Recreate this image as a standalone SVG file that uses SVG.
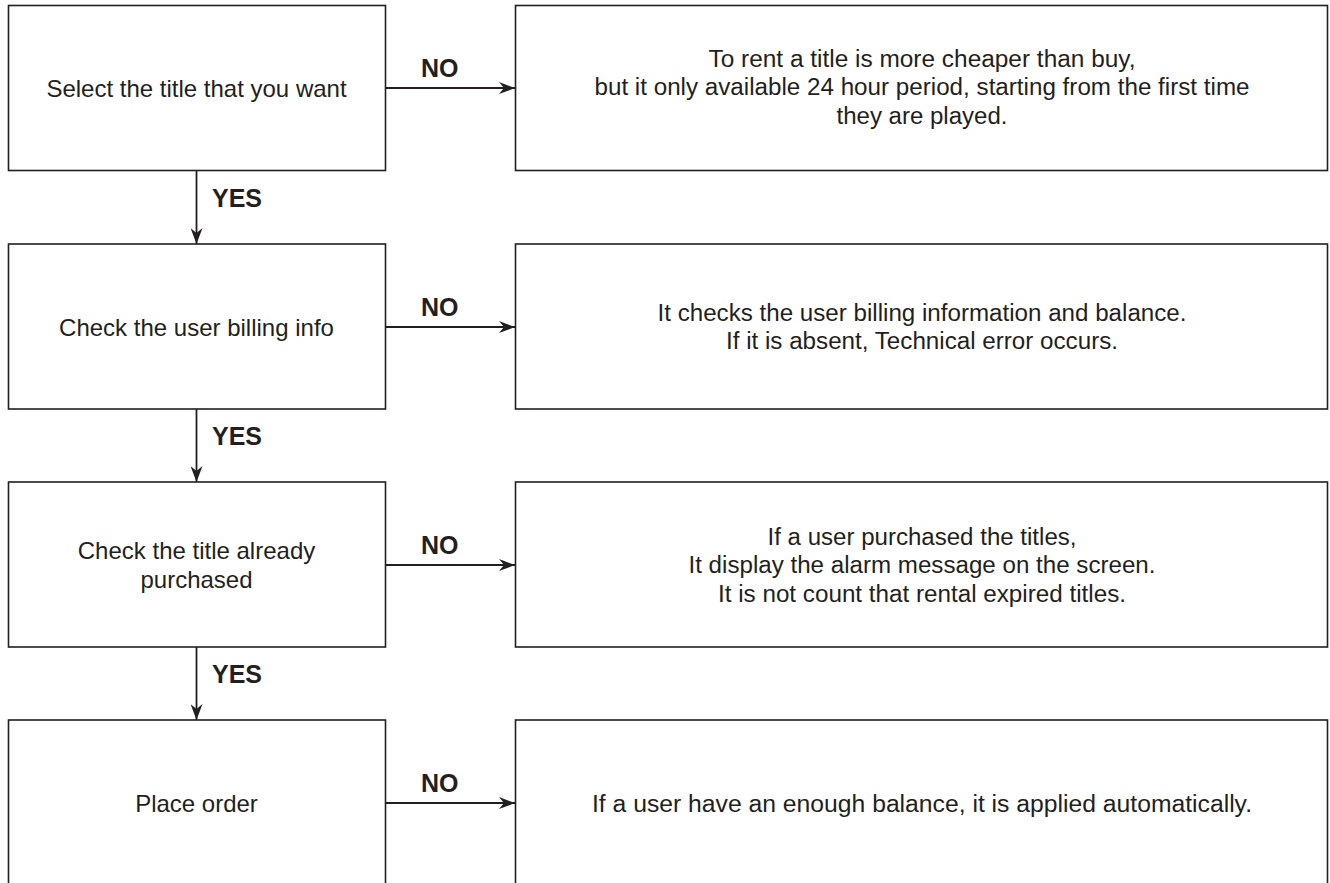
<svg xmlns="http://www.w3.org/2000/svg" width="1330" height="883" viewBox="0 0 1330 883">
<style>
.box{fill:#fff;stroke:#231f20;stroke-width:1.6}
.lt{font-family:"Liberation Sans",Arial,sans-serif;font-size:24px;fill:#231f20;text-anchor:middle}
.rt{font-family:"Liberation Sans",Arial,sans-serif;font-size:23px;fill:#231f20;text-anchor:middle}
.lbl{font-family:"Liberation Sans",Arial,sans-serif;font-size:25px;font-weight:bold;fill:#231f20}
.con{stroke:#231f20;stroke-width:1.8;fill:none;marker-end:url(#ah)}
</style>
<defs>
<marker id="ah" markerWidth="17" markerHeight="12" refX="16" refY="6" orient="auto" markerUnits="userSpaceOnUse">
<path d="M0,0 L16,6 L0,12 L5,6 z" fill="#231f20"/>
</marker>
</defs>
<rect width="1330" height="883" fill="#fff"/>
<g id="connectors">
<line class="con" x1="386" y1="88" x2="515" y2="88"/>
<line class="con" x1="386" y1="327" x2="515" y2="327"/>
<line class="con" x1="386" y1="565" x2="515" y2="565"/>
<line class="con" x1="386" y1="803" x2="515" y2="803"/>
<line class="con" x1="196.5" y1="171" x2="196.5" y2="244"/>
<line class="con" x1="196.5" y1="409" x2="196.5" y2="482"/>
<line class="con" x1="196.5" y1="647" x2="196.5" y2="720"/>
<text class="lbl" x="421" y="77">NO</text>
<text class="lbl" x="421" y="316">NO</text>
<text class="lbl" x="421" y="554">NO</text>
<text class="lbl" x="421" y="792">NO</text>
<text class="lbl" x="212" y="207">YES</text>
<text class="lbl" x="212" y="445">YES</text>
<text class="lbl" x="212" y="683">YES</text>
</g>
<g id="step1">
<rect class="box" x="8.5" y="5.5" width="377" height="165"/>
<text class="lt" x="196.5" y="97">Select the title that you want</text>
</g>
<g id="note1">
<rect class="box" x="515.5" y="5.5" width="812" height="165"/>
<text class="rt" x="922" y="67" textLength="427" lengthAdjust="spacingAndGlyphs">To rent a title is more cheaper than buy,</text>
<text class="rt" x="922" y="95" textLength="655" lengthAdjust="spacingAndGlyphs">but it only available 24 hour period, starting from the first time</text>
<text class="rt" x="922" y="124" textLength="171" lengthAdjust="spacingAndGlyphs">they are played.</text>
</g>
<g id="step2">
<rect class="box" x="8.5" y="244" width="377" height="165"/>
<text class="lt" x="196.5" y="336">Check the user billing info</text>
</g>
<g id="note2">
<rect class="box" x="515.5" y="244" width="812" height="165"/>
<text class="rt" x="922" y="321" textLength="529" lengthAdjust="spacingAndGlyphs">It checks the user billing information and balance.</text>
<text class="rt" x="922" y="349" textLength="392" lengthAdjust="spacingAndGlyphs">If it is absent, Technical error occurs.</text>
</g>
<g id="step3">
<rect class="box" x="8.5" y="482" width="377" height="165"/>
<text class="lt" x="196.5" y="559">Check the title already</text>
<text class="lt" x="196.5" y="588">purchased</text>
</g>
<g id="note3">
<rect class="box" x="515.5" y="482" width="812" height="165"/>
<text class="rt" x="922" y="545" textLength="309" lengthAdjust="spacingAndGlyphs">If a user purchased the titles,</text>
<text class="rt" x="922" y="573" textLength="467" lengthAdjust="spacingAndGlyphs">It display the alarm message on the screen.</text>
<text class="rt" x="922" y="602" textLength="408" lengthAdjust="spacingAndGlyphs">It is not count that rental expired titles.</text>
</g>
<g id="step4">
<rect class="box" x="8.5" y="720" width="377" height="170"/>
<text class="lt" x="196.5" y="812">Place order</text>
</g>
<g id="note4">
<rect class="box" x="515.5" y="720" width="812" height="170"/>
<text class="rt" x="922" y="812" textLength="660" lengthAdjust="spacingAndGlyphs">If a user have an enough balance, it is applied automatically.</text>
</g>
</svg>
